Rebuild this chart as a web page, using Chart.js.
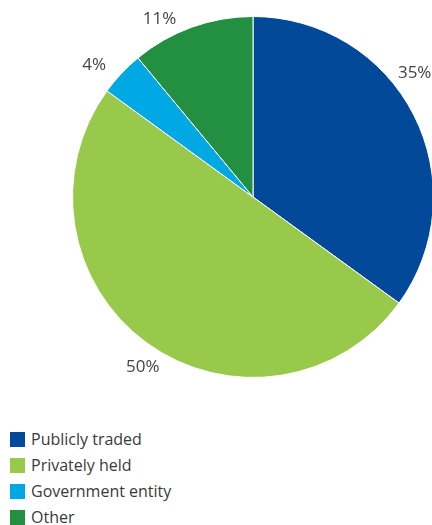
<!DOCTYPE html>
<html>
<head>
<meta charset="utf-8">
<script src="https://cdn.jsdelivr.net/npm/chart.js@4/dist/chart.umd.min.js"></script>
<style>
  html, body { margin: 0; padding: 0; background: #fff; overflow: hidden; width: 432px; height: 525px; }
  #wrap { position: absolute; left: 0; top: 0; width: 440px; height: 400px; }
  #legend { position: absolute; left: 10px; top: 426px; font-family: 'Open Sans', sans-serif; font-size: 16px; color: #3a3a3a; }
  .item { display: flex; align-items: center; height: 26px; }
  .box { width: 15px; height: 15px; margin-right: 6px; }
</style>
</head>
<body>
<div id="wrap"><canvas id="chart"></canvas></div>
<div id="legend"></div>
<script>
let categories = ['Publicly traded', 'Privately held', 'Government entity', 'Other'],
shares = [35, 50, 4, 11],
colors = ['#02499A', '#99C94B', '#00A9E3', '#228F41'],
ctx = document.getElementById('chart').getContext('2d');

// percentage labels outside the pie, nudged a bit along the rim
const outsideLabels = {
    id: 'outsideLabels',
    afterDatasetsDraw(chart, args, opts) {
        const c = chart.ctx;
        const meta = chart.getDatasetMeta(0);
        c.save();
        c.font = '17px "Open Sans", sans-serif';
        c.fillStyle = '#444';
        c.textAlign = 'center';
        c.textBaseline = 'middle';
        meta.data.forEach((arc, i) => {
            const p = arc.getProps(['x', 'y', 'startAngle', 'endAngle', 'outerRadius'], true);
            const a = (p.startAngle + p.endAngle) / 2 + opts.nudge[i] * Math.PI / 180;
            const r = p.outerRadius + opts.gap[i];
            c.fillText(shares[i] + '%', p.x + Math.cos(a) * r, p.y + Math.sin(a) * r);
        });
        c.restore();
    }
};

new Chart(ctx, {
    type: 'pie',
    data: {
        labels: categories,
        datasets: [{
            data: shares,
            backgroundColor: colors,
            borderColor: '#fff',
            borderWidth: 1
        }]
    },
    options: {
        responsive: true,
        maintainAspectRatio: false,
        animation: false,
        layout: { padding: { left: 72, top: 16, right: 6, bottom: 22 } },
        plugins: {
            legend: { display: false },
            tooltip: { enabled: false },
            outsideLabels: { nudge: [-10.4, -3, -3.5, -8], gap: [23, 22, 26, 20] }
        }
    },
    plugins: [outsideLabels]
});

let legend = document.getElementById('legend');
categories.forEach((name, i) => {
    let row = document.createElement('div');
    row.className = 'item';
    row.innerHTML = '<span class="box" style="background:' + colors[i] + '"></span>' + name;
    legend.appendChild(row);
});
</script>
</body>
</html>
